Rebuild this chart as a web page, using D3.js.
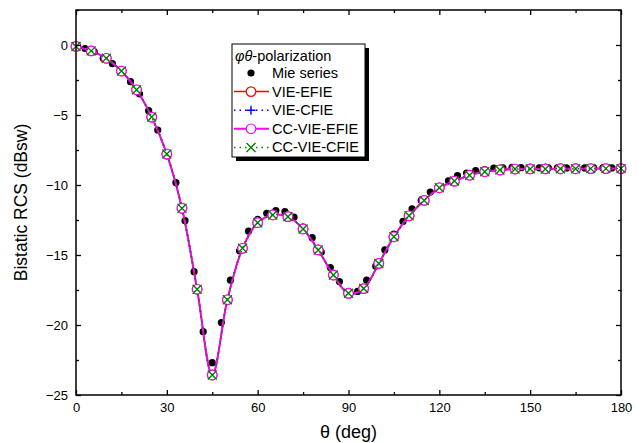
<!DOCTYPE html>
<html>
<head>
<meta charset="utf-8">
<script src="https://cdn.jsdelivr.net/npm/d3@7"></script>
<style>
  body { margin: 0; background: #fff; }
  svg { display: block; font-family: "Liberation Sans", Arial, sans-serif; }
</style>
</head>
<body>
<svg width="642" height="443"></svg>
<script>
// Mie series, every 3 degrees
const mieTheta = d3.range(0, 181, 3);
const mieDb = [-0.1, -0.25, -0.48, -0.95, -1.33, -1.9, -2.62, -3.5, -4.69, -6.07,
  -7.9, -9.83, -12.55, -16.19, -20.48, -22.69, -19.83, -16.8, -14.7, -13.3,
  -12.45, -12.02, -11.83, -11.9, -12.3, -13.0, -13.76, -14.8, -15.9, -16.9,
  -17.6, -17.6, -16.8, -15.8, -14.64, -13.5, -12.6, -11.7, -11.1, -10.5,
  -10.1, -9.7, -9.33, -9.15, -8.98, -8.9, -8.8, -8.78, -8.74, -8.76,
  -8.77, -8.77, -8.78, -8.78, -8.78, -8.78, -8.78, -8.78, -8.78, -8.78, -8.78];

// numerical solutions, every 5 degrees
const simTheta = d3.range(0, 181, 5);
const vieEfie = [-0.1, -0.42, -0.95, -1.86, -3.2, -5.15, -7.79, -11.66, -17.45, -23.57,
  -18.2, -14.52, -12.69, -12.14, -12.26, -13.14, -14.64, -16.43, -17.74, -17.4,
  -15.6, -13.7, -12.2, -11.1, -10.2, -9.72, -9.3, -9.05, -8.93, -8.86,
  -8.85, -8.85, -8.84, -8.84, -8.83, -8.83, -8.83];
const vieCfie = [-0.1, -0.42, -0.95, -1.86, -3.2, -5.15, -7.79, -11.66, -17.45, -23.57,
  -18.2, -14.52, -12.69, -12.14, -12.26, -13.14, -14.64, -16.43, -17.74, -17.4,
  -15.6, -13.7, -12.2, -11.1, -10.2, -9.72, -9.3, -9.05, -8.93, -8.86,
  -8.85, -8.85, -8.84, -8.84, -8.83, -8.83, -8.83];
const ccVieEfie = [-0.1, -0.42, -0.95, -1.86, -3.2, -5.15, -7.79, -11.66, -17.45, -23.57,
  -18.2, -14.52, -12.69, -12.14, -12.26, -13.14, -14.64, -16.43, -17.74, -17.4,
  -15.6, -13.7, -12.2, -11.1, -10.2, -9.72, -9.3, -9.05, -8.93, -8.86,
  -8.85, -8.85, -8.84, -8.84, -8.83, -8.83, -8.83];
const ccVieCfie = [-0.1, -0.42, -0.95, -1.86, -3.2, -5.15, -7.79, -11.66, -17.45, -23.57,
  -18.2, -14.52, -12.69, -12.14, -12.26, -13.14, -14.64, -16.43, -17.74, -17.4,
  -15.6, -13.7, -12.2, -11.1, -10.2, -9.72, -9.3, -9.05, -8.93, -8.86,
  -8.85, -8.85, -8.84, -8.84, -8.83, -8.83, -8.83];

const xTicks = [0, 30, 60, 90, 120, 150, 180];
const yTicks = [0, -5, -10, -15, -20, -25];
const legendTitle = "-polarization";
const legendNames = ["Mie series", "VIE-EFIE", "VIE-CFIE", "CC-VIE-EFIE", "CC-VIE-CFIE"];

let svg = d3.select('svg');
let plotL = 76, plotR = 621, plotT = 10, plotB = 395;

let x = d3.scaleLinear().domain([0, 180]).range([plotL, plotR]);
let y = d3.scaleLinear().domain([-25, 2.5]).range([plotB, plotT]);

let series = [
  {name: legendNames[1], values: vieEfie, color: '#ff0000', dash: null, width: 1.5, marker: 'circle'},
  {name: legendNames[2], values: vieCfie, color: '#0000ff', dash: '1.5,4', width: 1.5, marker: 'plus'},
  {name: legendNames[3], values: ccVieEfie, color: '#ff00ff', dash: null, width: 2, marker: 'circle'},
  {name: legendNames[4], values: ccVieCfie, color: '#008000', dash: '1.5,4', width: 1.5, marker: 'cross'}
];

let lineFn = d3.line()
  .curve(d3.curveCatmullRom)
  .x(d => x(d[0]))
  .y(d => y(d[1]));

// Mie dots
svg.append('g').selectAll('circle')
  .data(mieTheta.map((t, i) => [t, mieDb[i]]))
  .enter().append('circle')
  .attr('cx', d => x(d[0]))
  .attr('cy', d => y(d[1]))
  .attr('r', 3.6)
  .attr('fill', 'black');

function drawMarker(g, type, color, cx, cy) {
  if (type == 'circle') {
    g.append('circle').attr('cx', cx).attr('cy', cy).attr('r', 4.8)
      .attr('fill', 'white').attr('stroke', color).attr('stroke-width', 1.2);
  } else if (type == 'plus') {
    g.append('path').attr('d', `M${cx - 4.5},${cy}H${cx + 4.5}M${cx},${cy - 4.5}V${cy + 4.5}`)
      .attr('stroke', color).attr('stroke-width', 1.4);
  } else {
    g.append('path').attr('d', `M${cx - 4.5},${cy - 4.5}L${cx + 4.5},${cy + 4.5}M${cx - 4.5},${cy + 4.5}L${cx + 4.5},${cy - 4.5}`)
      .attr('stroke', color).attr('stroke-width', 1.4);
  }
}

series.forEach(s => {
  let pts = simTheta.map((t, i) => [t, s.values[i]]);
  svg.append('path')
    .datum(pts)
    .attr('d', lineFn)
    .attr('fill', 'none')
    .attr('stroke', s.color)
    .attr('stroke-width', s.width)
    .attr('stroke-dasharray', s.dash);
  let g = svg.append('g');
  pts.forEach(p => drawMarker(g, s.marker, s.color, x(p[0]), y(p[1])));
});

// axes, ticks inward
let xMinor = d3.range(15, 180, 30);
let yMinor = d3.range(-22.5, 2.6, 5);

svg.append('g')
  .attr('transform', `translate(0,${plotB})`)
  .call(d3.axisBottom(x).tickValues(xTicks).tickSize(-5).tickPadding(8).tickFormat(d3.format('d')));
svg.append('g')
  .attr('transform', `translate(0,${plotB})`)
  .call(d3.axisBottom(x).tickValues(xMinor).tickSize(-3).tickFormat(''));
svg.append('g')
  .attr('transform', `translate(0,${plotT})`)
  .call(d3.axisTop(x).tickValues(xTicks).tickSize(-5).tickFormat(''));
svg.append('g')
  .attr('transform', `translate(0,${plotT})`)
  .call(d3.axisTop(x).tickValues(xMinor).tickSize(-3).tickFormat(''));

svg.append('g')
  .attr('transform', `translate(${plotL},0)`)
  .call(d3.axisLeft(y).tickValues(yTicks).tickSize(-5).tickPadding(8).tickFormat(d3.format('d')));
svg.append('g')
  .attr('transform', `translate(${plotL},0)`)
  .call(d3.axisLeft(y).tickValues(yMinor).tickSize(-3).tickFormat(''));
svg.append('g')
  .attr('transform', `translate(${plotR},0)`)
  .call(d3.axisRight(y).tickValues(yTicks).tickSize(-5).tickFormat(''));
svg.append('g')
  .attr('transform', `translate(${plotR},0)`)
  .call(d3.axisRight(y).tickValues(yMinor).tickSize(-3).tickFormat(''));

svg.selectAll('.domain').remove();
svg.selectAll('.tick line').attr('stroke', 'black').attr('stroke-width', 1.3);
svg.selectAll('.tick text').attr('font-size', 13).attr('fill', 'black')
  .attr('font-family', '"Liberation Sans", Arial, sans-serif');

svg.append('rect')
  .attr('x', plotL).attr('y', plotT)
  .attr('width', plotR - plotL).attr('height', plotB - plotT)
  .attr('fill', 'none').attr('stroke', 'black').attr('stroke-width', 1.5);

// axis titles
svg.append('text')
  .attr('x', (plotL + plotR) / 2).attr('y', 438)
  .attr('text-anchor', 'middle').attr('font-size', 18)
  .text('θ (deg)');
svg.append('text')
  .attr('transform', `translate(27,${(plotT + plotB) / 2}) rotate(-90)`)
  .attr('text-anchor', 'middle').attr('font-size', 17.5)
  .text('Bistatic RCS (dBsw)');

// legend
let lg = svg.append('g').attr('transform', 'translate(232,44)');
lg.append('rect').attr('x', 4).attr('y', 4).attr('width', 133).attr('height', 113).attr('fill', 'black');
lg.append('rect').attr('x', 0).attr('y', 0).attr('width', 133).attr('height', 113)
  .attr('fill', 'white').attr('stroke', 'black').attr('stroke-width', 1);

let title = lg.append('text').attr('x', 3).attr('y', 17).attr('font-size', 14.5);
title.append('tspan').attr('font-style', 'italic').text('φθ');
title.append('tspan').text(legendTitle);

let rowY = i => 29 + i * 18.6;
lg.append('circle').attr('cx', 19).attr('cy', rowY(0)).attr('r', 3.6).attr('fill', 'black');
series.forEach((s, i) => {
  let yy = rowY(i + 1);
  lg.append('line').attr('x1', 2).attr('x2', 37).attr('y1', yy).attr('y2', yy)
    .attr('stroke', s.color).attr('stroke-width', s.width).attr('stroke-dasharray', s.dash);
  drawMarker(lg, s.marker, s.color, 19, yy);
});
legendNames.forEach((n, i) => {
  lg.append('text').attr('x', 40).attr('y', rowY(i) + 5).attr('font-size', 14.5).text(n);
});
</script>
</body>
</html>
